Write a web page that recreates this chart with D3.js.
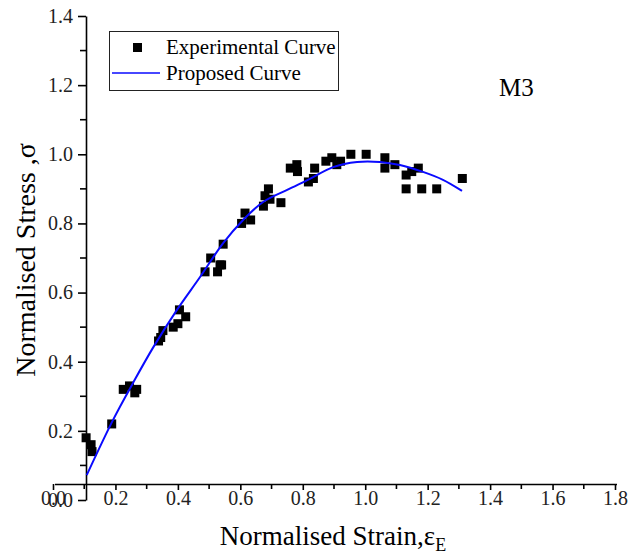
<!DOCTYPE html>
<html>
<head>
<meta charset="utf-8">
<script src="https://cdn.jsdelivr.net/npm/d3@7"></script>
<style>
  body { margin: 0; background: #fff; }
  text { font-family: "Liberation Serif", "Times New Roman", serif; }
</style>
</head>
<body>
<svg width="633" height="558"></svg>
<script>
// puntos experimentales (deformacion normalizada, tension normalizada)
var expStrain = [0.106,0.122,0.125,0.188,0.225,0.245,0.262,0.268,0.338,0.345,0.352,0.385,0.400,0.405,0.425,
  0.487,0.505,0.527,0.535,0.540,0.545,0.604,0.615,0.633,0.674,0.679,0.690,0.695,0.730,0.760,0.781,0.783,
  0.818,0.834,0.838,0.874,0.893,0.909,0.921,0.954,1.003,1.063,1.063,1.095,1.131,1.149,1.170,1.131,1.181,1.229,1.311];
var expStress = [0.18,0.16,0.14,0.22,0.32,0.33,0.31,0.32,0.46,0.47,0.49,0.50,0.51,0.55,0.53,
  0.66,0.70,0.66,0.68,0.68,0.74,0.80,0.83,0.81,0.85,0.88,0.90,0.87,0.86,0.96,0.97,0.95,
  0.92,0.93,0.96,0.98,0.99,0.97,0.98,1.00,1.00,0.99,0.96,0.97,0.94,0.95,0.96,0.90,0.90,0.90,0.93];

// curva propuesta
var curveStrain = [0.108,0.192,0.256,0.320,0.397,0.471,0.545,0.609,0.673,0.750,0.823,0.897,0.974,1.047,1.111,1.185,1.249,1.310];
var curveStress = [0.072,0.231,0.338,0.440,0.550,0.645,0.743,0.810,0.862,0.897,0.929,0.963,0.978,0.978,0.969,0.949,0.926,0.894];

var xTicks = [0,0.2,0.4,0.6,0.8,1.0,1.2,1.4,1.6,1.8];
var yTicks = [0,0.2,0.4,0.6,0.8,1.0,1.2,1.4];

var svg = d3.select("svg");

var x = d3.scaleLinear().domain([0, 1.8]).range([53, 615]);
var y = d3.scaleLinear().domain([0, 1.4]).range([500, 16]);

var xAxisY = 484, yAxisX = 86;

// eje x
var gx = svg.append("g").attr("transform", "translate(0," + xAxisY + ")");
gx.call(d3.axisBottom(x).tickValues(xTicks).tickFormat(d3.format(".1f")).tickSize(6).tickPadding(1).tickSizeOuter(0));
gx.select(".domain").attr("d", "M55,0.5H617").attr("stroke", "#000").attr("stroke-width", 1.6);
gx.selectAll(".tick line").attr("stroke-width", 1.6);
gx.selectAll("text").attr("font-size", 20).attr("fill", "#222").attr("font-family", "Liberation Serif");
gx.append("g").selectAll("line")
  .data(d3.range(0.1, 1.8, 0.2))
  .enter().append("line")
  .attr("x1", function(d) { return x(d); }).attr("x2", function(d) { return x(d); })
  .attr("y1", 0).attr("y2", 5)
  .attr("stroke", "#000").attr("stroke-width", 1.6);

// eje y
var gy = svg.append("g").attr("transform", "translate(" + yAxisX + ",0)");
gy.call(d3.axisLeft(y).tickValues(yTicks).tickFormat(d3.format(".1f")).tickSize(8).tickPadding(5).tickSizeOuter(0));
gy.select(".domain").attr("stroke", "#000").attr("stroke-width", 1.6);
gy.selectAll(".tick line").attr("stroke-width", 1.6);
gy.selectAll("text").attr("font-size", 20).attr("fill", "#222").attr("font-family", "Liberation Serif");
gy.append("g").selectAll("line")
  .data(d3.range(0.1, 1.4, 0.2))
  .enter().append("line")
  .attr("x1", -6).attr("x2", 0)
  .attr("y1", function(d) { return y(d); }).attr("y2", function(d) { return y(d); })
  .attr("stroke", "#000").attr("stroke-width", 1.6);

// puntos
var pts = expStrain.map(function(d, i) { return {x: d, y: expStress[i]}; });
svg.append("g").selectAll("rect")
  .data(pts)
  .enter().append("rect")
  .attr("x", function(d) { return x(d.x) - 4.5; })
  .attr("y", function(d) { return y(d.y) - 4.5; })
  .attr("width", 9).attr("height", 9)
  .attr("fill", "#000");

// curva
var cpts = curveStrain.map(function(d, i) { return [d, curveStress[i]]; });
var line = d3.line()
  .x(function(d) { return x(d[0]); })
  .y(function(d) { return y(d[1]); })
  .curve(d3.curveCatmullRom);
svg.append("path")
  .datum(cpts)
  .attr("d", line)
  .attr("fill", "none")
  .attr("stroke", "#0a0aff")
  .attr("stroke-width", 2);

// leyenda
var legend = svg.append("g");
legend.append("rect")
  .attr("x", 109.5).attr("y", 31.5).attr("width", 229).attr("height", 59)
  .attr("fill", "#fff").attr("stroke", "#222").attr("stroke-width", 1);
legend.append("rect")
  .attr("x", 133).attr("y", 43).attr("width", 9).attr("height", 9).attr("fill", "#000");
legend.append("line")
  .attr("x1", 112).attr("x2", 160).attr("y1", 73).attr("y2", 73)
  .attr("stroke", "#0a0aff").attr("stroke-width", 1.5);
legend.append("text").attr("x", 166).attr("y", 54).attr("font-size", 21).text("Experimental Curve");
legend.append("text").attr("x", 166).attr("y", 80).attr("font-size", 21).text("Proposed Curve");

svg.append("text").attr("x", 499).attr("y", 96).attr("font-size", 25).text("M3");

// titulos
svg.append("text")
  .attr("transform", "translate(35,260) rotate(-90)")
  .attr("text-anchor", "middle")
  .attr("font-size", 28)
  .text("Normalised Stress ,σ");

var xt = svg.append("text")
  .attr("x", 333).attr("y", 545)
  .attr("text-anchor", "middle")
  .attr("font-size", 27);
xt.append("tspan").text("Normalised Strain,ε");
xt.append("tspan").attr("font-size", 18).attr("dy", 6).text("E");
</script>
</body>
</html>
